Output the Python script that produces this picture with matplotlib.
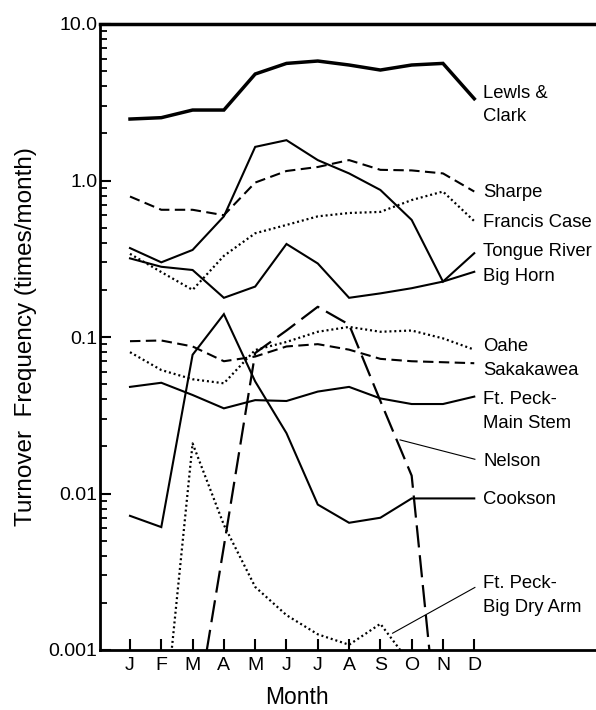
"""Monthly turnover frequency of Missouri basin reservoirs (log scale)."""

# ---------------------------------------------------------------------------
# Section 1: Imports
# ---------------------------------------------------------------------------
import matplotlib

matplotlib.use("Agg")

import matplotlib.pyplot as plt  # noqa: E402
import numpy as np  # noqa: E402
from matplotlib.ticker import FixedLocator, LogLocator, NullFormatter  # noqa: E402


# ---------------------------------------------------------------------------
# Section 2: Data (times/month)
# ---------------------------------------------------------------------------
MONTHS = ["J", "F", "M", "A", "M", "J", "J", "A", "S", "O", "N", "D"]
NAN = np.nan

lewis_clark = [2.47, 2.52, 2.82, 2.82, 4.79, 5.6, 5.8, 5.47, 5.08, 5.47, 5.6, 3.33]
sharpe = [0.79, 0.65, 0.65, 0.60, 0.97, 1.15, 1.22, 1.35, 1.17, 1.16, 1.11, 0.85]
francis_case = [0.34, 0.26, 0.20, 0.33, 0.46, 0.52, 0.59, 0.62, 0.63, 0.75, 0.85, 0.55]
tongue_river = [0.37, 0.30, 0.36, 0.59, 1.64, 1.81, 1.35, 1.11, 0.87, 0.56, 0.226, 0.343]
big_horn = [0.318, 0.281, 0.268, 0.178, 0.21, 0.393, 0.295, 0.178, 0.19, 0.205, 0.226, 0.261]
oahe = [0.080, 0.0615, 0.0537, 0.0506, 0.0826, 0.093, 0.108, 0.116, 0.108, 0.11, 0.098, 0.083]
sakakawea = [0.094, 0.095, 0.087, 0.070, 0.075, 0.087, 0.090, 0.083, 0.0725, 0.070, 0.069, 0.068]
ft_peck_main = [0.048, 0.051, 0.0426, 0.035, 0.0395, 0.039, 0.0448, 0.048, 0.0405, 0.0373, 0.0373, 0.0416]
nelson = [NAN, NAN, 0.00028, 0.0046, 0.079, 0.11, 0.156, 0.12, 0.039, 0.013, 0.00014, NAN]
cookson = [0.0072, 0.0061, 0.077, 0.140, 0.052, 0.0243, 0.0085, 0.0065, 0.0070, 0.0093, 0.0093, 0.0093]
big_dry_arm = [NAN, 0.00022, 0.0209, 0.0063, 0.00253, 0.00167, 0.00126, 0.00108, 0.00147, 0.0008, NAN, NAN]

# label text and the frequency its centre sits at
label_texts = ["Lewls &\nClark", "Sharpe", "Francis Case", "Tongue River", "Big Horn",
               "Oahe", "Sakakawea", "Ft. Peck-\nMain Stem", "Nelson", "Cookson",
               "Ft. Peck-\nBig Dry Arm"]
label_levels = [3.04, 0.844, 0.543, 0.351, 0.243, 0.0867, 0.0615, 0.0334, 0.016, 0.0092, 0.00223]


# ---------------------------------------------------------------------------
# Section 3: Styles
# ---------------------------------------------------------------------------
SOLID = "-"
DASHED = (0, (5, 2.6))
LONG_DASH = (0, (10, 3.5))
DOTTED = (0, (0.9, 1.3))

SERIES = [
    (lewis_clark, SOLID, 2.5),
    (sharpe, DASHED, 1.5),
    (francis_case, DOTTED, 1.6),
    (tongue_river, SOLID, 1.5),
    (big_horn, SOLID, 1.5),
    (oahe, DOTTED, 1.6),
    (sakakawea, DASHED, 1.5),
    (ft_peck_main, SOLID, 1.5),
    (nelson, LONG_DASH, 1.6),
    (cookson, SOLID, 1.5),
    (big_dry_arm, DOTTED, 1.6),
]

plt.rcParams["font.family"] = ["Liberation Sans", "DejaVu Sans"]


def main() -> None:
    fig = plt.figure(figsize=(5.96, 7.10), dpi=100)
    ax = fig.add_axes([100 / 596, 60 / 710, 496 / 596, 626 / 710])
    x = np.arange(1, len(MONTHS) + 1)

    for values, style, lw in SERIES:
        ax.plot(x, values, color="black", linestyle=style, linewidth=lw,
                solid_joinstyle="miter", dash_capstyle="butt")

    for text, level in zip(label_texts, label_levels):
        ax.text(12.28, level, text, fontsize=13.3, va="center", ha="left",
                linespacing=1.5)

    # leader lines for Nelson and Big Dry Arm
    ax.plot([9.63, 12.02], [0.022, 0.01655], color="black", linewidth=0.8)
    ax.plot([9.39, 12.02], [0.00128, 0.00251], color="black", linewidth=0.8)

    ax.set_yscale("log")
    ax.set_ylim(0.001, 10)
    ax.set_xlim(0.0415, 15.89)

    ax.yaxis.set_major_locator(FixedLocator([0.001, 0.01, 0.1, 1.0, 10.0]))
    ax.set_yticklabels(["0.001", "0.01", "0.1", "1.0", "10.0"])
    ax.yaxis.set_minor_locator(LogLocator(base=10, subs=np.arange(2, 10)))
    ax.yaxis.set_minor_formatter(NullFormatter())
    ax.set_xticks(x)
    ax.set_xticklabels(MONTHS)

    ax.tick_params(axis="y", which="major", direction="in", length=8, width=1.5,
                   labelsize=14, pad=2)
    ax.tick_params(axis="y", which="minor", direction="in", length=5, width=1.3)
    ax.tick_params(axis="x", direction="in", length=8, width=1.5, labelsize=14, pad=5)

    ax.spines["right"].set_visible(False)
    ax.spines["left"].set_linewidth(2)
    ax.spines["bottom"].set_linewidth(2)
    ax.spines["top"].set_linewidth(2.5)

    ax.set_xlabel("Month", fontsize=16.5)
    ax.xaxis.set_label_coords(0.397, -0.058)
    ax.set_ylabel("Turnover  Frequency (times/month)", fontsize=17.5)
    ax.yaxis.set_label_coords(-0.128, 0.5)

    fig.savefig("out.png", dpi=100)
    plt.close(fig)


if __name__ == "__main__":
    main()
